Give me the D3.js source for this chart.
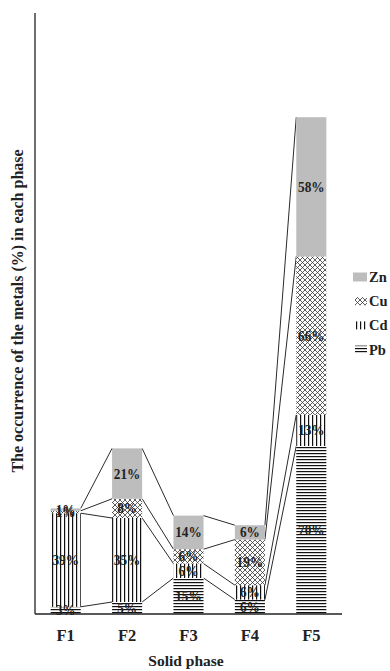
<!DOCTYPE html>
<html>
<head>
<meta charset="utf-8">
<script src="https://cdn.jsdelivr.net/npm/d3@7"></script>
<style>
  html, body { margin: 0; padding: 0; background: #fff; }
  svg { display: block; }
  text { font-family: "Liberation Serif", "Times New Roman", serif; font-weight: bold; }
</style>
</head>
<body>
<svg id="chart" width="390" height="671"></svg>
<script>
// Share of each metal (%) found in each solid phase
const phases = ["F1", "F2", "F3", "F4", "F5"];
const pb = [3, 5, 15, 6, 70];
const cd = [39, 35, 6, 6, 13];
const cu = [1, 8, 6, 19, 66];
const zn = [1, 21, 14, 6, 58];
const metals = ["Pb", "Cd", "Cu", "Zn"];   // stacking order, bottom to top
const legendOrder = ["Zn", "Cu", "Cd", "Pb"];
const yMax = 250;

const svg = d3.select("#chart");
const plotLeft = 35, plotRight = 342, plotTop = 14, plotBottom = 614;

// Fill patterns
const defs = svg.append("defs");
const pPb = defs.append("pattern").attr("id", "pat-Pb")
  .attr("patternUnits", "userSpaceOnUse").attr("width", 6).attr("height", 3);
pPb.append("rect").attr("width", 6).attr("height", 3).attr("fill", "#fff");
pPb.append("line").attr("x1", 0).attr("x2", 6).attr("y1", 0.6).attr("y2", 0.6)
  .attr("stroke", "#111").attr("stroke-width", 1.2);

const pCd = defs.append("pattern").attr("id", "pat-Cd")
  .attr("patternUnits", "userSpaceOnUse").attr("width", 4).attr("height", 6);
pCd.append("rect").attr("width", 4).attr("height", 6).attr("fill", "#fff");
pCd.append("line").attr("x1", 0.6).attr("x2", 0.6).attr("y1", 0).attr("y2", 6)
  .attr("stroke", "#111").attr("stroke-width", 1.2);

const pCu = defs.append("pattern").attr("id", "pat-Cu")
  .attr("patternUnits", "userSpaceOnUse").attr("width", 5).attr("height", 5);
pCu.append("rect").attr("width", 5).attr("height", 5).attr("fill", "#fff");
pCu.append("path").attr("d", "M0,0L5,5M5,0L0,5M-1,4L1,6M4,-1L6,1M4,6L6,4M-1,1L1,-1")
  .attr("stroke", "#333").attr("stroke-width", 0.8).attr("fill", "none");

const fills = { Pb: "url(#pat-Pb)", Cd: "url(#pat-Cd)", Cu: "url(#pat-Cu)", Zn: "#bdbdbd" };

// Data table for stacking
const rows = phases.map((p, i) => ({ phase: p, Pb: pb[i], Cd: cd[i], Cu: cu[i], Zn: zn[i] }));
const stacked = d3.stack().keys(metals)(rows);

const x = d3.scaleBand().domain(phases).range([plotLeft, plotRight])
  .paddingInner(0.51).paddingOuter(0.255);
const y = d3.scaleLinear().domain([0, yMax]).range([plotBottom, plotTop]);
const bw = x.bandwidth();

// Series lines joining the top of each segment across neighbouring bars
const lineG = svg.append("g");
stacked.forEach(s => {
  for (let i = 0; i < s.length - 1; i++) {
    lineG.append("line")
      .attr("x1", x(phases[i]) + bw).attr("y1", y(s[i][1]))
      .attr("x2", x(phases[i + 1])).attr("y2", y(s[i + 1][1]))
      .attr("stroke", "#2a2a2a").attr("stroke-width", 1);
  }
});

// Bars
const barG = svg.append("g");
stacked.forEach(s => {
  barG.selectAll(null).data(s).enter().append("rect")
    .attr("x", d => x(d.data.phase))
    .attr("y", d => y(d[1]))
    .attr("width", bw)
    .attr("height", d => y(d[0]) - y(d[1]))
    .attr("fill", fills[s.key]);
});

// Value labels (slightly condensed serif)
const labG = svg.append("g");
stacked.forEach(s => {
  labG.selectAll(null).data(s).enter().append("text")
    .attr("transform", d => `translate(${x(d.data.phase) + bw / 2},${(y(d[0]) + y(d[1])) / 2}) scale(0.95,1)`)
    .attr("dy", "0.35em")
    .attr("text-anchor", "middle")
    .attr("font-size", 14)
    .attr("fill", "#222")
    .text(d => d.data[s.key] + "%");
});

// Axes
const xAxis = d3.axisBottom(x).tickSize(0).tickPadding(0);
const gx = svg.append("g").attr("transform", `translate(0,${plotBottom})`).call(xAxis);
gx.select(".domain").attr("stroke", "#222").attr("stroke-width", 1.3)
  .attr("d", `M${plotLeft},0H${plotRight}`);
gx.selectAll(".tick text")
  .attr("y", 27).attr("dy", null)
  .attr("font-size", 16.5).attr("fill", "#222")
  .attr("font-family", "Liberation Serif, serif").attr("font-weight", "bold");

const yAxis = d3.axisLeft(y).tickValues([]).tickSize(0);
const gy = svg.append("g").attr("transform", `translate(${plotLeft},0)`).call(yAxis);
gy.select(".domain").attr("stroke", "#222").attr("stroke-width", 1.3)
  .attr("d", `M0,${plotTop - 1}V${plotBottom}`);

// Axis titles
svg.append("text")
  .attr("x", 186).attr("y", 666)
  .attr("text-anchor", "middle").attr("font-size", 15.5).attr("fill", "#222")
  .text("Solid phase");
svg.append("text")
  .attr("transform", "translate(23,311) rotate(-90)")
  .attr("text-anchor", "middle").attr("font-size", 16).attr("fill", "#222")
  .text("The occurrence of the metals (%) in each phase");

// Legend
const leg = svg.append("g");
legendOrder.forEach((k, i) => {
  const cy = 277 + i * 24.2;
  if (k === "Zn") {
    leg.append("rect").attr("x", 353).attr("y", cy - 4.5).attr("width", 14).attr("height", 9)
      .attr("fill", fills[k]);
  } else {
    leg.append("rect").attr("x", 355).attr("y", cy - 4).attr("width", 12).attr("height", 8)
      .attr("fill", fills[k]);
  }
  leg.append("text").attr("x", 369).attr("y", cy).attr("dy", "0.35em")
    .attr("font-size", 14.5).attr("fill", "#222").text(k);
});
</script>
</body>
</html>
